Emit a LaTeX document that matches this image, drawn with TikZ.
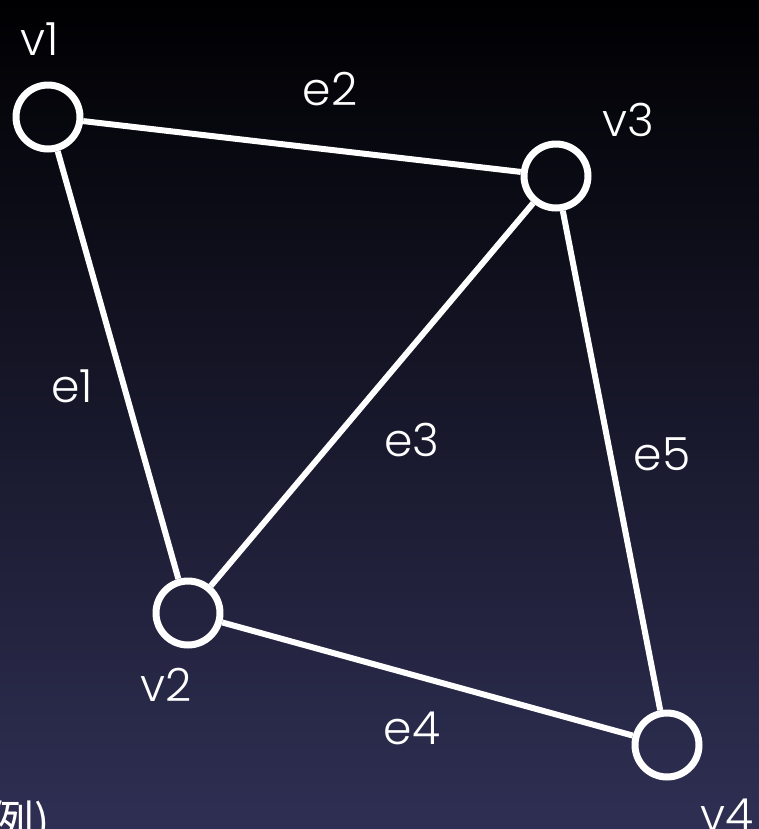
\documentclass[tikz,border=0pt]{standalone}
\usepackage{fontspec}
\setmainfont{Poppins}[UprightFont=* Light]
\newfontfamily\cjk{Noto Sans CJK JP}
\usetikzlibrary{positioning, calc}
\definecolor{bgtop}{RGB}{0,0,2}
\definecolor{bgbottom}{RGB}{47,47,84}
\begin{document}
\begin{tikzpicture}[
  x=0.02cm, y=-0.02cm,
  vertex/.style={circle, draw=white, line width=0.14cm, minimum size=1.28cm, inner sep=0pt},
  edge/.style={draw=white, line width=0.12cm},
  lbl/.style={text=white, font=\fontsize{26}{30}\selectfont, inner sep=0pt}
  ]
  % background, fixes the size too
  \clip (0, 0) rectangle (759, 829);
  \shade[top color=bgtop, bottom color=bgbottom] (0, 0) rectangle (759, 829);
  \useasboundingbox (0, 0) rectangle (759, 829);

  %% vertices
  \node[vertex] (v1) at (48, 117) {};
  \node[vertex] (v2) at (188, 613) {};
  \node[vertex] (v3) at (556, 176) {};
  \node[vertex] (v4) at (667, 745) {};

  %% edges
  \draw[edge] (v1) -- (v2);
  \draw[edge] (v1) -- (v3);
  \draw[edge] (v2) -- (v3);
  \draw[edge] (v2) -- (v4);
  \draw[edge] (v3) -- (v4);

  %% vertex labels
  \node[lbl] (lv1) at (40, 39) {v1};
  \node[lbl] (lv2) at (166, 685) {v2};
  \node[lbl] (lv3) at (628, 120) {v3};
  \node[lbl] (lv4) at (727, 815) {v4};

  %% edge labels
  \node[lbl] (le1) at (72, 386) {e1};
  \node[lbl] (le2) at (330, 89) {e2};
  \node[lbl] (le3) at (412, 440) {e3};
  \node[lbl] (le4) at (412, 728) {e4};
  \node[lbl] (le5) at (662, 454) {e5};

  % cut off at the bottom
  \node[lbl, anchor=north west, font=\cjk\fontsize{26}{30}\selectfont] (ex) at (-12, 800) {例)};
\end{tikzpicture}
\end{document}
